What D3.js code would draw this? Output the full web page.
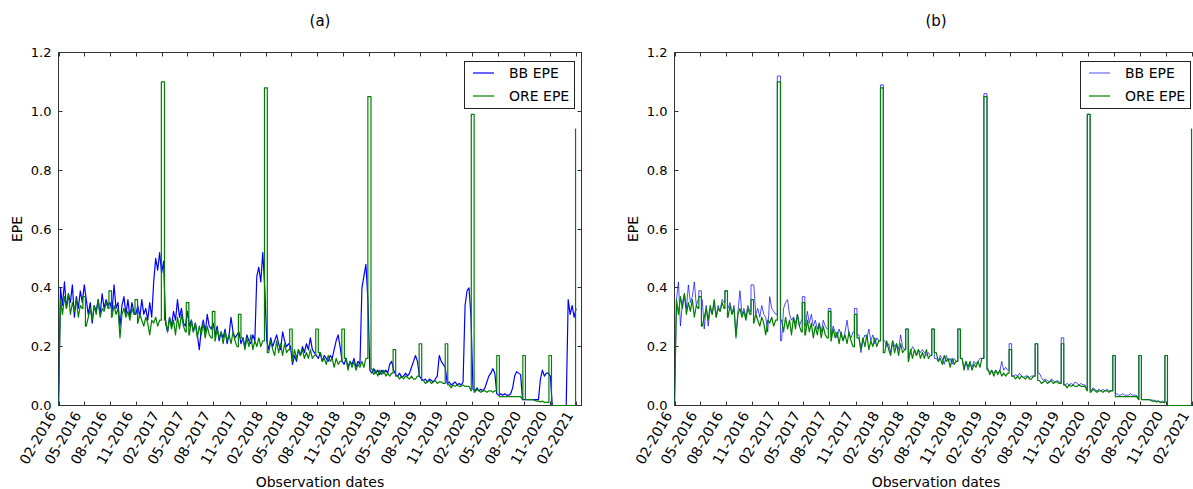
<!DOCTYPE html>
<html>
<head>
<meta charset="utf-8">
<script src="https://cdn.jsdelivr.net/npm/d3@7"></script>
<style>
  body { margin: 0; background: #fff; }
  text { font-family: "DejaVu Sans", sans-serif; fill: #000; }
</style>
</head>
<body>
<svg id="chart" width="1193" height="489"></svg>
<script>
// ---- data (weekly observations from 2016-02-01) ----
const startDate = "2016-02-01";
const endDate = "2021-02-20";
const tickLabels = ["02-2016", "05-2016", "08-2016", "11-2016", "02-2017", "05-2017", "08-2017",
    "11-2017", "02-2018", "05-2018", "08-2018", "11-2018", "02-2019", "05-2019", "08-2019",
    "11-2019", "02-2020", "05-2020", "08-2020", "11-2020", "02-2021"];
const yTicks = [0, 0.2, 0.4, 0.6, 0.8, 1.0, 1.2];
const panelTitles = ["(a)", "(b)"];
const seriesNames = ["BB EPE", "ORE EPE"];

// ORE EPE, weekly, without the cash-flow pulses
const oreWeekly = [
    0.00, 0.36, 0.31, 0.37, 0.33, 0.38, 0.31, 0.35, 0.32, 0.36, 0.30, 0.34, 0.33,
    0.31, 0.27, 0.30, 0.33, 0.29, 0.34, 0.31, 0.36, 0.30, 0.33, 0.32, 0.35, 0.33,
    0.33, 0.30, 0.34, 0.31, 0.33, 0.23, 0.31, 0.33, 0.30, 0.32, 0.29, 0.33, 0.31,
    0.30, 0.28, 0.31, 0.29, 0.27, 0.30, 0.28, 0.24, 0.29, 0.28, 0.30, 0.27, 0.29,
    0.28, 0.27, 0.29, 0.25, 0.30, 0.26, 0.29, 0.24, 0.30, 0.26, 0.31, 0.27, 0.25,
    0.27, 0.24, 0.29, 0.25, 0.28, 0.23, 0.27, 0.24, 0.28, 0.23, 0.27, 0.24, 0.23,
    0.25, 0.22, 0.26, 0.23, 0.25, 0.21, 0.25, 0.22, 0.24, 0.21, 0.25, 0.22, 0.20,
    0.24, 0.20, 0.23, 0.19, 0.23, 0.20, 0.24, 0.19, 0.22, 0.20, 0.23, 0.20, 0.22,
    0.19, 0.22, 0.18, 0.22, 0.19, 0.17, 0.22, 0.18, 0.21, 0.17, 0.21, 0.18, 0.19,
    0.17, 0.15, 0.19, 0.16, 0.19, 0.17, 0.19, 0.16, 0.18, 0.16, 0.19, 0.16, 0.17,
    0.17, 0.14, 0.18, 0.15, 0.16, 0.14, 0.17, 0.15, 0.16, 0.13, 0.16, 0.14, 0.15,
    0.15, 0.13, 0.16, 0.12, 0.15, 0.13, 0.15, 0.12, 0.14, 0.13, 0.15, 0.13, 0.16,
    0.12, 0.10, 0.125, 0.105, 0.12, 0.10, 0.12, 0.105, 0.12, 0.10, 0.11, 0.10, 0.11,
    0.10, 0.09, 0.10, 0.09, 0.10, 0.09, 0.10, 0.095, 0.09, 0.10, 0.09, 0.09, 0.10,
    0.085, 0.08, 0.085, 0.075, 0.08, 0.085, 0.075, 0.08, 0.085, 0.075, 0.08, 0.08, 0.075,
    0.07, 0.065, 0.07, 0.06, 0.07, 0.065, 0.07, 0.065, 0.065, 0.07, 0.065, 0.065, 0.065,
    0.05, 0.05, 0.045, 0.055, 0.05, 0.045, 0.05, 0.05, 0.045, 0.05, 0.05, 0.045, 0.05,
    0.03, 0.03, 0.03, 0.03, 0.03, 0.03, 0.03, 0.03, 0.03, 0.03, 0.03, 0.03, 0.03,
    0.02, 0.02, 0.02, 0.02, 0.02, 0.02, 0.018, 0.015, 0.015, 0.012, 0.015, 0.01, 0.012,
    0.01, 0, 0, 0, 0, 0, 0, 0, 0, 0, 0, 0, 0,
    0, 0
];

// BB EPE of panel (a), weekly
const bbWeeklyA = [
    0.00, 0.40, 0.34, 0.42, 0.33, 0.38, 0.35, 0.41, 0.30, 0.37, 0.33, 0.39, 0.35,
    0.41, 0.36, 0.31, 0.35, 0.28, 0.34, 0.32, 0.36, 0.31, 0.38, 0.33, 0.36, 0.34,
    0.35, 0.32, 0.41, 0.33, 0.35, 0.27, 0.34, 0.37, 0.31, 0.36, 0.30, 0.35, 0.32,
    0.31, 0.34, 0.30, 0.36, 0.31, 0.33, 0.29, 0.35, 0.30, 0.42, 0.50, 0.46, 0.52,
    0.45, 0.49, 0.28, 0.25, 0.30, 0.27, 0.32, 0.29, 0.36, 0.30, 0.33, 0.28, 0.27,
    0.32, 0.27, 0.29, 0.25, 0.28, 0.24, 0.19, 0.26, 0.29, 0.25, 0.31, 0.27, 0.26,
    0.28, 0.24, 0.27, 0.22, 0.25, 0.23, 0.26, 0.21, 0.24, 0.30, 0.25, 0.23, 0.24,
    0.25, 0.21, 0.23, 0.20, 0.24, 0.22, 0.21, 0.24, 0.22, 0.44, 0.47, 0.42, 0.52,
    0.40, 0.22, 0.19, 0.23, 0.20, 0.22, 0.24, 0.21, 0.19, 0.25, 0.22, 0.20, 0.21,
    0.20, 0.14, 0.17, 0.15, 0.19, 0.17, 0.20, 0.18, 0.21, 0.19, 0.23, 0.19, 0.18,
    0.17, 0.16, 0.18, 0.15, 0.17, 0.16, 0.15, 0.17, 0.16, 0.19, 0.22, 0.24, 0.20,
    0.15, 0.14, 0.16, 0.13, 0.15, 0.14, 0.16, 0.13, 0.15, 0.14, 0.40, 0.44, 0.48,
    0.36, 0.12, 0.11, 0.125, 0.11, 0.12, 0.105, 0.12, 0.11, 0.12, 0.11, 0.14, 0.15,
    0.12, 0.105, 0.10, 0.11, 0.095, 0.10, 0.11, 0.10, 0.11, 0.13, 0.15, 0.17, 0.15,
    0.10, 0.09, 0.085, 0.09, 0.08, 0.09, 0.085, 0.08, 0.09, 0.10, 0.17, 0.15, 0.14,
    0.13, 0.075, 0.08, 0.07, 0.075, 0.08, 0.07, 0.075, 0.07, 0.08, 0.34, 0.39, 0.40,
    0.30, 0.055, 0.05, 0.06, 0.05, 0.055, 0.05, 0.06, 0.08, 0.10, 0.11, 0.125, 0.11,
    0.04, 0.035, 0.04, 0.035, 0.04, 0.035, 0.035, 0.04, 0.06, 0.10, 0.115, 0.11, 0.105,
    0.02, 0.02, 0.02, 0.02, 0.02, 0.02, 0.02, 0.02, 0.02, 0.09, 0.12, 0.10, 0.11,
    0.11, 0.10, 0, 0, 0, 0, 0, 0, 0, 0, 0.36, 0.31, 0.34,
    0.30, 0.33
];

// BB EPE of panel (b), weekly, without the cash-flow pulses
const bbWeeklyB = [
    0.00, 0.36, 0.42, 0.27, 0.35, 0.38, 0.33, 0.41, 0.35, 0.37, 0.42, 0.34, 0.36,
    0.26, 0.36, 0.26, 0.34, 0.27, 0.33, 0.31, 0.35, 0.30, 0.34, 0.32, 0.36, 0.35,
    0.36, 0.33, 0.35, 0.31, 0.34, 0.24, 0.32, 0.39, 0.31, 0.33, 0.30, 0.34, 0.32,
    0.36, 0.41, 0.31, 0.33, 0.30, 0.34, 0.31, 0.30, 0.25, 0.37, 0.33, 0.32, 0.31,
    0.29, 0.30, 0.22, 0.33, 0.35, 0.36, 0.31, 0.29, 0.30, 0.28, 0.31, 0.27, 0.29,
    0.29, 0.27, 0.32, 0.28, 0.31, 0.27, 0.29, 0.26, 0.28, 0.25, 0.29, 0.27, 0.26,
    0.26, 0.24, 0.27, 0.25, 0.23, 0.26, 0.24, 0.22, 0.25, 0.29, 0.24, 0.23, 0.25,
    0.23, 0.21, 0.24, 0.18, 0.22, 0.24, 0.23, 0.26, 0.22, 0.24, 0.21, 0.23, 0.22,
    0.21, 0.19, 0.22, 0.20, 0.21, 0.18, 0.22, 0.20, 0.21, 0.19, 0.24, 0.20, 0.19,
    0.17, 0.16, 0.18, 0.20, 0.19, 0.17, 0.19, 0.18, 0.19, 0.18, 0.17, 0.18, 0.17,
    0.16, 0.17, 0.16, 0.15, 0.17, 0.16, 0.14, 0.17, 0.15, 0.16, 0.14, 0.16, 0.15,
    0.15, 0.14, 0.16, 0.13, 0.15, 0.12, 0.14, 0.13, 0.15, 0.14, 0.15, 0.16, 0.16,
    0.12, 0.13, 0.12, 0.115, 0.12, 0.11, 0.12, 0.11, 0.115, 0.15, 0.12, 0.13, 0.12,
    0.10, 0.095, 0.10, 0.105, 0.10, 0.11, 0.10, 0.095, 0.10, 0.10, 0.095, 0.10, 0.10,
    0.09, 0.09, 0.11, 0.095, 0.085, 0.09, 0.085, 0.08, 0.09, 0.085, 0.08, 0.085, 0.08,
    0.075, 0.065, 0.07, 0.075, 0.07, 0.075, 0.07, 0.08, 0.075, 0.07, 0.075, 0.07, 0.07,
    0.055, 0.055, 0.05, 0.06, 0.055, 0.05, 0.055, 0.05, 0.055, 0.05, 0.055, 0.05, 0.05,
    0.035, 0.035, 0.04, 0.035, 0.035, 0.04, 0.035, 0.035, 0.035, 0.04, 0.035, 0.035, 0.035,
    0.02, 0.02, 0.02, 0.02, 0.02, 0.02, 0.02, 0.018, 0.018, 0.015, 0.015, 0.012, 0.015,
    0.01, 0, 0, 0, 0, 0, 0, 0, 0, 0, 0, 0, 0,
    0, 0, 0, 0
];

// quarterly cash-flow windows and the EPE level inside them
const pulseStart = ["2016-04-27", "2016-07-28", "2016-10-28", "2017-01-29", "2017-04-27",
    "2017-07-28", "2017-10-28", "2018-01-28", "2018-04-27", "2018-07-28", "2018-10-28",
    "2019-01-28", "2019-04-27", "2019-07-28", "2019-10-28", "2020-01-28", "2020-04-27",
    "2020-07-28", "2020-10-28", "2021-01-30"];
const pulseEnd = ["2016-05-06", "2016-08-06", "2016-11-06", "2017-02-09", "2017-05-06",
    "2017-08-06", "2017-11-06", "2018-02-07", "2018-05-06", "2018-08-06", "2018-11-06",
    "2019-02-08", "2019-05-06", "2019-08-06", "2019-11-06", "2020-02-07", "2020-05-06",
    "2020-08-06", "2020-11-06", "2021-02-01"];
const orePulseLevel = [0.37, 0.39, 0.36, 1.10, 0.35, 0.32, 0.31, 1.08, 0.26, 0.26, 0.26,
    1.05, 0.19, 0.21, 0.21, 0.99, 0.17, 0.17, 0.17, 0.94];
const bbPulseLevelB = [0.39, 0.39, 0.41, 1.12, 0.37, 0.33, 0.33, 1.09, 0.26, 0.26, 0.26,
    1.06, 0.21, 0.21, 0.23, 0.99, 0.17, 0.17, 0.17, null];

// ---- helpers ----
const parseDay = d3.utcParse("%Y-%m-%d");
const parseTick = d3.utcParse("%m-%Y");
const t0 = parseDay(startDate);

function weekly(vals) {
    return vals.map((v, i) => ({ date: d3.utcDay.offset(t0, 7 * i), value: v }));
}

// put the rectangular cash-flow pulses into a weekly series
function withPulses(vals, levels) {
    let pts = weekly(vals);
    levels.forEach((lv, k) => {
        if (lv == null) return;
        let s = parseDay(pulseStart[k]), e = parseDay(pulseEnd[k]);
        let before = pts.filter(p => p.date < s),
            after = pts.filter(p => p.date > e),
            mid = [];
        if (before.length) mid.push({ date: s, value: before[before.length - 1].value });
        mid.push({ date: s, value: lv }, { date: e, value: lv });
        if (after.length) mid.push({ date: e, value: after[0].value });
        pts = before.concat(mid, after);
    });
    return pts;
}

const orePts = withPulses(oreWeekly, orePulseLevel);
const panels = [
    { left: 58.5, right: 581.5, title: panelTitles[0], bb: weekly(bbWeeklyA), bbWidth: 1.2, legendX: 464 },
    { left: 674.5, right: 1197.5, title: panelTitles[1], bb: withPulses(bbWeeklyB, bbPulseLevelB), bbWidth: 0.7, legendX: 1080 }
];
const plotTop = 52.5, plotBottom = 405.5;

let svg = d3.select('#chart');

panels.forEach((p, pi) => {
    let x = d3.scaleUtc()
        .domain([t0, parseDay(endDate)])
        .range([p.left, p.right]);
    let y = d3.scaleLinear()
        .domain([0, 1.2])
        .range([plotBottom, plotTop]);

    let g = svg.append('g');

    // 框
    g.append('rect')
        .attr('x', p.left).attr('y', plotTop)
        .attr('width', p.right - p.left).attr('height', plotBottom - plotTop)
        .attr('fill', 'none').attr('stroke', '#333').attr('stroke-width', 1);

    // ticks pointing inside, on all four sides
    let tickDates = tickLabels.map(parseTick);
    tickDates.forEach((d, i) => {
        let tx = Math.round(x(d)) + 0.5;
        g.append('line').attr('x1', tx).attr('x2', tx).attr('y1', plotBottom).attr('y2', plotBottom - 4)
            .attr('stroke', '#333');
        g.append('line').attr('x1', tx).attr('x2', tx).attr('y1', plotTop).attr('y2', plotTop + 4)
            .attr('stroke', '#333');
        g.append('text')
            .attr('transform', `translate(${tx - 7},${plotBottom + 7}) rotate(-60)`)
            .attr('text-anchor', 'end')
            .attr('dy', '0.35em')
            .attr('font-size', 14)
            .text(tickLabels[i]);
    });
    yTicks.forEach(v => {
        let ty = Math.round(y(v) - 0.5) + 0.5;
        g.append('line').attr('x1', p.left).attr('x2', p.left + 4).attr('y1', ty).attr('y2', ty)
            .attr('stroke', '#333');
        g.append('line').attr('x1', p.right).attr('x2', p.right - 4).attr('y1', ty).attr('y2', ty)
            .attr('stroke', '#333');
        g.append('text')
            .attr('x', p.left - 7).attr('y', ty)
            .attr('dy', '0.35em')
            .attr('text-anchor', 'end')
            .attr('font-size', 13)
            .text(d3.format('.1f')(v));
    });

    // 线
    let clipId = 'clip' + pi;
    svg.append('clipPath').attr('id', clipId)
        .append('rect')
        .attr('x', p.left).attr('y', plotTop - 1)
        .attr('width', p.right - p.left).attr('height', plotBottom - plotTop + 2);

    let line = d3.line()
        .x(d => x(d.date))
        .y(d => y(d.value));

    let lines = g.append('g').attr('clip-path', `url(#${clipId})`);
    lines.append('path')
        .datum(p.bb)
        .attr('d', line)
        .attr('fill', 'none')
        .attr('stroke', '#0000ff')
        .attr('stroke-width', p.bbWidth)
        .attr('stroke-linejoin', 'round');
    lines.append('path')
        .datum(orePts)
        .attr('d', line)
        .attr('fill', 'none')
        .attr('stroke', '#008000')
        .attr('stroke-width', 1.2)
        .attr('stroke-linejoin', 'round');

    // 标题和轴标签
    let cx = (p.left + p.right) / 2;
    g.append('text').attr('x', cx).attr('y', 26)
        .attr('text-anchor', 'middle').attr('font-size', 15)
        .text(p.title);
    g.append('text').attr('x', cx).attr('y', 487)
        .attr('text-anchor', 'middle').attr('font-size', 14)
        .text('Observation dates');
    g.append('text')
        .attr('transform', `translate(${p.left - 37},${(plotTop + plotBottom) / 2}) rotate(-90)`)
        .attr('text-anchor', 'middle').attr('font-size', 14)
        .text('EPE');

    // legend
    let lg = g.append('g').attr('transform', `translate(${p.legendX},61)`);
    lg.append('rect')
        .attr('x', 0.5).attr('y', 0.5).attr('width', 110).attr('height', 47)
        .attr('fill', '#fff').attr('stroke', '#222').attr('stroke-width', 1);
    [['#0000ff', p.bbWidth], ['#008000', 1.2]].forEach((s, i) => {
        let ly = 12 + i * 23;
        lg.append('line')
            .attr('x1', 9).attr('x2', 30).attr('y1', ly).attr('y2', ly)
            .attr('stroke', s[0]).attr('stroke-width', s[1]);
        lg.append('text')
            .attr('x', 45).attr('y', ly).attr('dy', '0.36em')
            .attr('font-size', 14)
            .text(seriesNames[i]);
    });
});
</script>
</body>
</html>
